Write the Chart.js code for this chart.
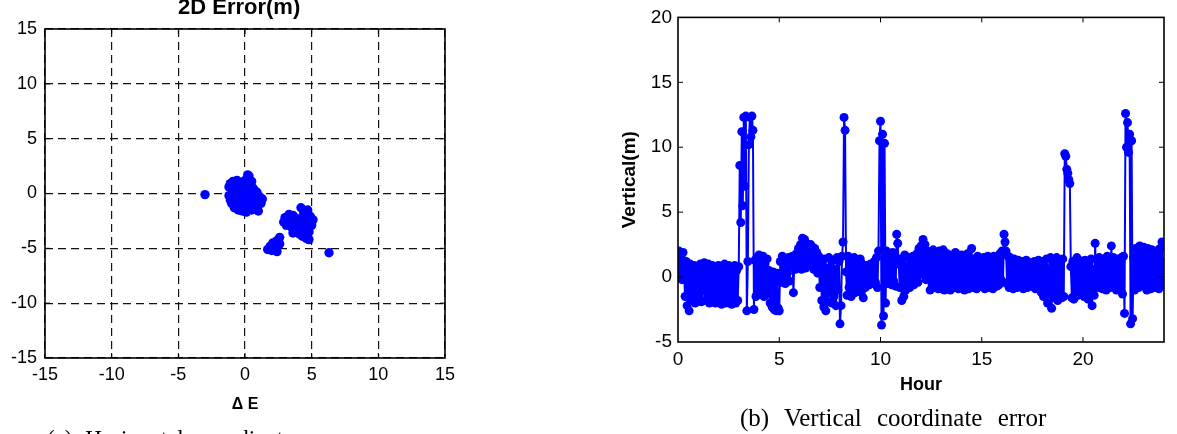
<!DOCTYPE html>
<html>
<head>
<meta charset="utf-8">
<script src="https://cdn.jsdelivr.net/npm/chart.js@4.4.1/dist/chart.umd.min.js"></script>
<style>
  body { margin: 0; background: #fff; }
  #wrap { position: relative; width: 1177px; height: 434px; overflow: hidden; background: #fff; }
  canvas { position: absolute; top: 0; }
  .txt { position: absolute; white-space: nowrap; color: #000; }
  .title { font: bold 22px "Liberation Sans", Arial, sans-serif; line-height: 22px; }
  .caption { font-family: "Liberation Serif", "Times New Roman", serif; }
</style>
</head>
<body>
<div id="wrap">
  <canvas id="hzChart" width="590" height="434" style="left:0"></canvas>
  <canvas id="vtChart" width="587" height="434" style="left:590px"></canvas>
  <div class="txt title" style="left:178px; top:-4px;">2D Error(m)</div>
  <div class="txt caption" style="left:47px; top:427px; font-size:23px; line-height:23px; word-spacing:7px;">(a) Horizontal coordinate error</div>
  <div class="txt caption" style="left:740px; top:405px; font-size:25px; line-height:25px; word-spacing:9px;">(b) Vertical coordinate error</div>
</div>
<script>
// (a) horizontal error scatter, metres
const eastErr = [
  -1.2, -1.2, -1.1, -1.0, -0.9, -0.9, -0.8, -0.7, -0.7, -0.6, -0.5, -0.5, -0.4, -0.3, -0.3,
  -0.2, -0.1, 0.0, 0.0, 0.1, 0.1, 0.2, 0.3, 0.2, 0.3, 0.4, 0.4, 0.5, 0.6, 0.6,
  0.7, 0.8, 0.9, 1.0, 1.1, 1.2, 1.3, 0.5, -0.6, -1.1, 0.8, -0.2, 0.0, 0.9,
  2.9, 3.0, 3.1, 3.3, 3.4, 3.5, 3.6, 3.7, 3.8, 3.9, 4.0, 4.1, 4.2, 4.2, 4.3,
  4.4, 4.5, 4.6, 4.7, 4.7, 4.8, 4.9, 5.0, 5.1, 4.5, 3.6, 4.8,
  1.7, 1.9, 2.0, 2.1, 2.3, 2.4, 2.4, 2.6, 2.6, 2.2,
  -3.0, 6.3
];
const northErr = [
  0.6, -0.2, 0.9, -0.9, 1.1, 0.2, -1.3, 0.8, -0.5, 1.2, -1.5, 0.4, -0.9, 1.0, -0.2,
  -1.6, 0.6, -1.1, 1.2, -0.4, -1.7, 1.7, 1.6, 0.3, -1.3, 0.9, -0.7, -1.5, 0.5, -0.2,
  -1.1, 0.2, -0.6, -1.6, -0.3, -0.9, -0.5, 1.1, -0.9, -0.6, -1.4, 0.2, -0.7, 0.1,
  -2.6, -2.2, -2.9, -1.9, -2.5, -3.1, -2.0, -2.7, -3.4, -2.3, -3.0, -3.7, -1.3, -2.5, -3.9,
  -1.8, -3.2, -4.1, -1.5, -2.7, -3.5, -2.1, -2.9, -2.4, -2.2, -3.6, -4.2,
  -5.1, -4.8, -5.2, -4.5, -4.9, -5.3, -4.3, -4.0, -4.6, -5.0,
  -0.1, -5.4
];
const hzTicks = [-15, -10, -5, 0, 5, 10, 15];

// (b) vertical error, one sample every 0.05 h, one row per hour
const hourStep = 0.05;
const vertErr = [
  0.5, 2.0, 0.1, 1.6, -0.2, 1.9, 0.3, -1.5, 1.2, -2.2, 0.8, -2.6, 1.0, -1.8, 0.6, -1.2, 0.9, -2.0, 0.4, -1.6,
  0.8, -1.4, 1.0, -1.9, 0.5, -1.0, 1.1, -1.8, 0.7, -1.2, 1.0, -2.0, 0.4, -1.5, 0.9, -1.7, 0.6, -2.0, 0.8, -1.3,
  0.9, -1.8, 0.5, -2.1, 0.8, -1.6, 1.0, -2.0, 0.3, -1.9, 0.9, -1.4, 0.6, -2.1, 0.8, -1.7, 0.9, -2.0, 0.5, -1.8,
  0.8, 8.6, 4.2, 11.2, 5.5, 12.3, 7.0, 12.4, -2.6, 1.2, 10.2, 12.3, 10.8, 12.4, 11.3, -2.5, 1.3, -1.5, 1.5, -1.0,
  1.7, -1.2, 1.5, -0.6, 1.6, -1.5, 1.0, -0.8, 1.4, -1.3, 0.5, -2.0, 0.2, -2.3, 0.4, -2.5, -0.2, -2.6, 0.3, -2.4,
  -2.6, 1.2, -0.4, 1.6, 0.2, 1.0, -0.5, 1.4, 0.3, 1.5, -0.3, 1.2, 0.8, 1.6, -1.2, 1.4, 0.6, 1.8, 0.9, 2.2,
  1.0, 2.5, 0.6, 3.0, 1.2, 2.9, 0.7, 2.6, 1.5, 2.4, 0.9, 2.5, 1.4, 2.3, 0.6, 2.2, 1.0, 1.9, 0.3, 1.6,
  -0.8, 1.2, -1.8, 0.9, -2.3, 1.4, -2.6, 0.5, -1.9, 1.5, -1.2, 0.8, -2.0, 1.3, -1.5, 0.6, -2.2, 1.5, -1.0, 1.2,
  -3.6, -2.2, 1.6, 2.7, 12.3, 11.3, 0.4, -1.4, 1.6, -0.8, 1.3, -1.5, 1.0, -0.6, 1.5, -1.2, 0.8, -1.0, 1.2, -0.5,
  1.4, -1.2, 1.0, -1.6, 0.6, -0.8, 0.9, -0.3, 0.5, -0.6, 1.0, -0.2, 0.8, -0.5, 1.2, -0.4, 1.5, -0.8, 2.0, 10.5,
  12.0, -3.7, 11.0, -3.0, 10.3, -2.0, 2.0, -0.5, 1.7, -0.2, 1.2, -0.6, 1.9, -0.3, 1.5, -0.7, 3.3, 2.6, 1.0, -0.8,
  1.4, -1.8, 1.0, -1.5, 1.7, -1.0, 0.8, -0.5, 1.5, -0.8, 1.2, -0.3, 1.6, -0.6, 1.0, 0.0, 1.8, -0.4, 2.2, 0.2,
  2.4, 0.3, 2.9, 0.6, 2.5, -0.2, 2.0, 0.4, 1.6, -1.0, 1.8, -0.6, 2.1, -0.8, 1.7, -0.5, 1.9, -0.9, 2.0, -0.4,
  1.6, -0.9, 2.1, -1.0, 1.5, -0.7, 1.8, -0.9, 1.2, -1.0, 1.6, -0.5, 1.4, -0.8, 1.9, -0.6, 1.3, -0.9, 1.5, -0.7,
  1.7, -0.8, 1.2, -1.0, 1.5, -0.6, 1.8, -0.9, 1.0, -0.4, 2.2, -0.8, 1.4, -0.6, 1.1, -0.9, 1.6, -0.5, 1.3, -0.7,
  1.2, -0.6, 1.5, -0.9, 1.0, -0.3, 1.6, -0.8, 1.4, -0.5, 1.2, -0.9, 1.6, -0.4, 1.0, -0.7, 1.5, -0.6, 1.8, -0.2,
  2.0, -0.4, 3.3, 2.7, 2.0, -0.5, 1.6, -0.8, 1.5, -0.3, 1.2, -0.9, 1.4, -0.5, 1.1, -0.8, 1.3, -0.6, 1.0, -0.7,
  1.2, -0.9, 1.0, -0.5, 1.3, -0.8, 0.9, -0.3, 1.1, -0.7, 1.0, -0.6, 1.2, -0.9, 0.8, -0.4, 1.3, -0.8, 1.0, -1.2,
  1.2, -1.5, 0.8, -1.0, 1.4, -2.0, 0.6, -1.3, 1.5, -2.4, 1.0, -1.6, 0.7, -1.1, 1.5, -1.8, 1.0, -1.4, 1.3, -1.6,
  1.4, -1.5, 9.5, 9.3, 8.3, 8.0, 7.5, 7.2, 0.8, -1.6, 1.2, -1.7, 0.9, -1.0, 1.5, -1.4, 1.3, -0.8, 1.2, -1.0,
  1.0, -1.5, 1.3, -1.2, 0.8, -1.7, 1.1, -1.0, 1.4, -2.2, 0.6, -1.4, 2.6, -0.5, 1.3, -0.8, 1.5, -0.4, 1.2, -0.9,
  1.4, -0.6, 1.2, -1.0, 1.6, -0.5, 1.3, -0.8, 2.4, -0.7, 1.5, -0.6, 1.2, -1.0, 1.4, -0.5, 1.1, -0.9, 1.5, -1.3,
  1.6, -2.8, 12.6, 10.0, 11.9, 9.6, 11.0, -3.6, 10.5, -3.2, 1.5, -1.0, 2.2, -0.5, 2.0, -0.8, 2.4, -0.3, 1.9, -0.6,
  2.3, -0.7, 2.0, -1.0, 2.2, -0.4, 1.8, -0.9, 2.1, -0.5, 1.6, -0.8, 2.0, -0.3, 1.7, -0.9, 2.2, -0.6, 2.7, -0.5,
  1.2
];
const hourTicks = [0, 5, 10, 15, 20];
const vertTicks = [-5, 0, 5, 10, 15, 20];

const blue = 'rgb(0, 0, 255)';
const fontFamily = '"Liberation Sans", Arial, sans-serif';

// MATLAB style box with inward tick marks on all four sides
const boxTicks = {
    id: 'boxTicks',
    afterDraw(chart) {
        const { ctx, chartArea: a, scales: { x, y } } = chart;
        const len = 5;
        ctx.save();
        ctx.strokeStyle = '#000';
        ctx.lineWidth = 1;
        ctx.beginPath();
        x.ticks.forEach(t => {
            const px = x.getPixelForValue(t.value);
            if (px <= a.left + 1 || px >= a.right - 1) return;
            ctx.moveTo(px, a.bottom); ctx.lineTo(px, a.bottom - len);
            ctx.moveTo(px, a.top); ctx.lineTo(px, a.top + len);
        });
        y.ticks.forEach(t => {
            const py = y.getPixelForValue(t.value);
            if (py <= a.top + 1 || py >= a.bottom - 1) return;
            ctx.moveTo(a.left, py); ctx.lineTo(a.left + len, py);
            ctx.moveTo(a.right, py); ctx.lineTo(a.right - len, py);
        });
        ctx.stroke();
        ctx.lineWidth = 1.6;
        ctx.strokeRect(a.left, a.top, a.right - a.left, a.bottom - a.top);
        ctx.restore();
    }
};

const setTicks = list => scale => { scale.ticks = list.map(v => ({ value: v })); };

// left chart
new Chart(document.getElementById('hzChart').getContext('2d'), {
    type: 'scatter',
    data: {
        datasets: [{
            data: eastErr.map((e, i) => ({ x: e, y: northErr[i] })),
            pointRadius: 4.7,
            pointBackgroundColor: blue,
            pointBorderColor: blue,
            pointBorderWidth: 0
        }]
    },
    options: {
        responsive: false,
        animation: false,
        layout: { padding: { left: 0, right: 145, top: 29, bottom: 0 } },
        plugins: { legend: { display: false }, tooltip: { enabled: false } },
        scales: {
            x: {
                type: 'linear', min: -15, max: 15,
                afterBuildTicks: setTicks(hzTicks),
                afterFit: s => { s.height = 76; },
                ticks: { font: { family: fontFamily, size: 18 }, color: '#000', padding: 6, maxRotation: 0 },
                grid: { color: '#111', lineWidth: 1.2, drawTicks: false },
                border: { display: false, dash: [8, 5] },
                title: {
                    display: true, text: '\u0394 E', color: '#000',
                    font: { family: fontFamily, size: 16, weight: 'bold' },
                    padding: { top: 0, bottom: 20 }
                }
            },
            y: {
                type: 'linear', min: -15, max: 15,
                afterBuildTicks: setTicks(hzTicks),
                afterFit: s => { s.width = 45; },
                ticks: { font: { family: fontFamily, size: 18 }, color: '#000', padding: 8 },
                grid: { color: '#111', lineWidth: 1.2, drawTicks: false },
                border: { display: false, dash: [8, 5] }
            }
        }
    },
    plugins: [boxTicks]
});

// right chart
new Chart(document.getElementById('vtChart').getContext('2d'), {
    type: 'scatter',
    data: {
        datasets: [{
            data: vertErr.map((v, i) => ({ x: i * hourStep, y: v })),
            showLine: true,
            borderColor: blue,
            borderWidth: 2,
            pointRadius: 4.5,
            pointBackgroundColor: blue,
            pointBorderColor: blue,
            pointBorderWidth: 0
        }]
    },
    options: {
        responsive: false,
        animation: false,
        layout: { padding: { left: 0, right: 13, top: 13, bottom: 0 } },
        plugins: { legend: { display: false }, tooltip: { enabled: false } },
        scales: {
            x: {
                type: 'linear', min: 0, max: 24,
                afterBuildTicks: setTicks(hourTicks),
                afterFit: s => { s.height = 92; },
                ticks: { font: { family: fontFamily, size: 19 }, color: '#000', padding: 6, maxRotation: 0 },
                grid: { display: false, drawTicks: false },
                border: { display: false },
                title: {
                    display: true, text: 'Hour', color: '#000',
                    font: { family: fontFamily, size: 18, weight: 'bold' },
                    padding: { top: 0, bottom: 38 }
                }
            },
            y: {
                type: 'linear', min: -5, max: 20,
                afterBuildTicks: setTicks(vertTicks),
                afterFit: s => { s.width = 88; },
                ticks: { font: { family: fontFamily, size: 19 }, color: '#000', padding: 6 },
                grid: { display: false, drawTicks: false },
                border: { display: false },
                title: {
                    display: true, text: 'Vertical(m)', color: '#000',
                    font: { family: fontFamily, size: 19, weight: 'bold' },
                    padding: { top: 28, bottom: 0 }
                }
            }
        }
    },
    plugins: [boxTicks]
});
</script>
</body>
</html>
